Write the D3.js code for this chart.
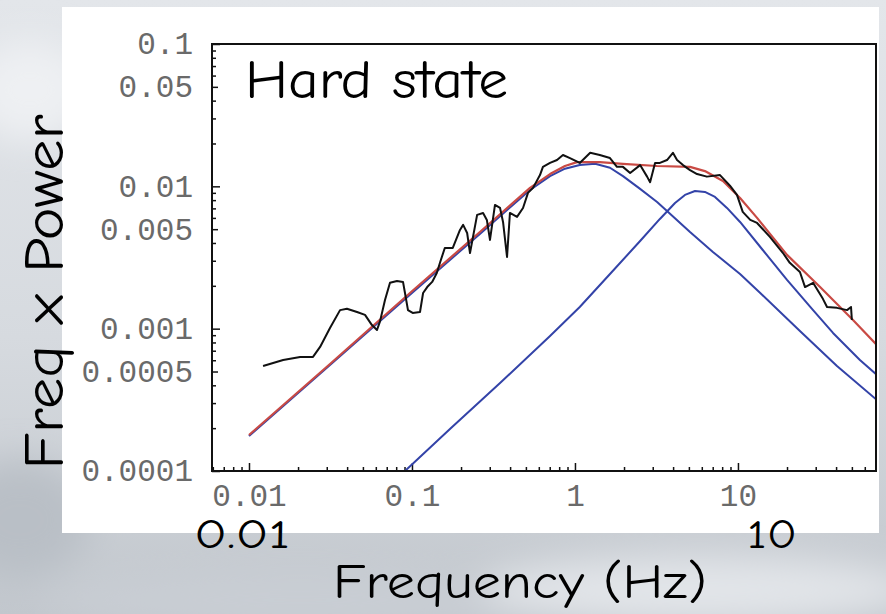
<!DOCTYPE html>
<html>
<head>
<meta charset="utf-8">
<script src="https://cdn.jsdelivr.net/npm/d3@7"></script>
<style>
  html, body { margin: 0; padding: 0; background: #d9dde2; }
  svg { display: block; }
</style>
</head>
<body>
<div id="chart"></div>
<script>
// Tick labels
const freqTicks = [0.01, 0.1, 1, 10];
const powerTicks = [0.1, 0.05, 0.01, 0.005, 0.001, 0.0005, 0.0001];

// Measured power spectrum (freq x power)
const dataFreq = [0.0122, 0.0162, 0.0206, 0.0247, 0.0273, 0.0314, 0.0362, 0.0399, 0.0460, 0.0515,
  0.0568, 0.0610, 0.0636, 0.0683, 0.0733, 0.0809, 0.0881, 0.0906, 0.0945, 0.101,
  0.112, 0.117, 0.124, 0.133, 0.142, 0.149, 0.159, 0.178, 0.197, 0.206,
  0.218, 0.227, 0.251, 0.273, 0.288, 0.301, 0.323, 0.347, 0.362, 0.383,
  0.399, 0.441, 0.480, 0.515, 0.553, 0.610, 0.636, 0.703, 0.776, 0.844,
  0.932, 1.07, 1.24, 1.42, 1.64, 1.81, 1.97, 2.18, 2.51, 2.77,
  2.89, 3.10, 3.32, 3.67, 3.99, 4.23, 4.60, 5.08, 5.61, 6.45,
  7.76, 8.93, 9.86, 10.7, 11.9, 13.1, 15.7, 18.9, 20.8, 24.0,
  25.8, 28.9, 33.2, 35.2, 40.5, 46.7, 49.4, 50.0];
const dataPower = [5.47e-4, 6.03e-4, 6.33e-4, 6.33e-4, 7.44e-4, 1.01e-3, 1.35e-3, 1.38e-3, 1.31e-3, 1.25e-3,
  1.06e-3, 9.79e-4, 1.12e-3, 1.59e-3, 2.10e-3, 2.16e-3, 2.13e-3, 1.78e-3, 1.35e-3, 1.29e-3,
  1.31e-3, 1.78e-3, 1.96e-3, 2.13e-3, 2.46e-3, 2.94e-3, 3.69e-3, 3.69e-3, 4.94e-3, 5.36e-3,
  4.70e-3, 3.40e-3, 6.30e-3, 6.50e-3, 5.81e-3, 4.20e-3, 7.40e-3, 7.05e-3, 5.62e-3, 3.19e-3,
  6.50e-3, 6.10e-3, 7.05e-3, 8.99e-3, 9.75e-3, 0.0120, 0.0137, 0.0146, 0.0153, 0.0166,
  0.0158, 0.0146, 0.0172, 0.0166, 0.0158, 0.0137, 0.0137, 0.0124, 0.0141, 0.0117,
  0.0107, 0.0146, 0.0146, 0.0153, 0.0172, 0.0153, 0.0141, 0.0130, 0.0122, 0.0117,
  0.0120, 0.0101, 8.70e-3, 6.61e-3, 5.81e-3, 5.53e-3, 4.41e-3, 3.40e-3, 2.90e-3, 2.50e-3,
  1.96e-3, 2.10e-3, 1.62e-3, 1.42e-3, 1.40e-3, 1.35e-3, 1.42e-3, 1.15e-3];

// Low-frequency Lorentzian component
const lowFreq = [0.01, 0.0314, 0.0972, 0.261, 0.530, 0.703, 0.868, 1.07, 1.33, 1.64,
  1.97, 2.51, 3.19, 3.67, 5.08, 7.02, 10.3, 13.7, 24.0, 40.5, 71.2];
const lowPower = [1.76e-4, 5.56e-4, 1.73e-3, 4.63e-3, 9.43e-3, 0.0118, 0.0133, 0.0141, 0.0144, 0.0135,
  0.0118, 9.59e-3, 7.77e-3, 6.72e-3, 4.78e-3, 3.46e-3, 2.42e-3, 1.78e-3, 9.63e-4, 5.47e-4, 3.15e-4];

// High-frequency Lorentzian component
const highFreq = [0.0906, 0.171, 0.347, 0.703, 1.07, 1.64, 2.51, 3.32, 4.11, 4.73,
  5.45, 6.27, 7.23, 8.56, 10.3, 14.2, 20.0, 28.9, 38.3, 56.0, 71.2];
const highPower = [1.0e-4, 1.97e-4, 4.15e-4, 8.89e-4, 1.42e-3, 2.42e-3, 4.13e-3, 5.90e-3, 7.64e-3, 8.70e-3,
  9.28e-3, 9.13e-3, 8.42e-3, 7.05e-3, 5.62e-3, 3.57e-3, 2.20e-3, 1.35e-3, 9.33e-4, 6.03e-4, 4.73e-4];

// Total model
const totalFreq = [0.01, 0.0314, 0.0972, 0.261, 0.530, 0.703, 0.868, 1.03, 1.42, 1.97,
  3.19, 5.08, 6.27, 8.09, 10.3, 13.1, 20.0, 31.9, 50.8, 71.2];
const totalPower = [1.79e-4, 5.65e-4, 1.78e-3, 4.78e-3, 9.75e-3, 0.0122, 0.0139, 0.0148, 0.0148, 0.0144,
  0.0139, 0.0137, 0.0128, 0.0109, 8.29e-3, 6.00e-3, 3.30e-3, 1.96e-3, 1.15e-3, 7.68e-4];

const width = 886, height = 614;
const frame = { left: 212, right: 876, top: 44, bottom: 471 };
const handFont = "'Comic Sans MS', 'Comic Neue', Lato, sans-serif";
const monoFont = "'Liberation Mono', 'DejaVu Sans Mono', monospace";

const svg = d3.select("#chart").append("svg")
  .attr("width", width)
  .attr("height", height);

const defs = svg.append("defs");

// Sky-like backdrop
const bg = defs.append("linearGradient").attr("id", "sky")
  .attr("x1", 0).attr("y1", 0).attr("x2", 0).attr("y2", 1);
bg.append("stop").attr("offset", "0%").attr("stop-color", "#e3e6ea");
bg.append("stop").attr("offset", "55%").attr("stop-color", "#d6dadf");
bg.append("stop").attr("offset", "100%").attr("stop-color", "#c2c7cd");

defs.append("filter").attr("id", "blur")
  .append("feGaussianBlur").attr("stdDeviation", 18);

defs.append("clipPath").attr("id", "plot-clip")
  .append("rect")
  .attr("x", frame.left)
  .attr("y", frame.top)
  .attr("width", frame.right - frame.left)
  .attr("height", frame.bottom - frame.top);

svg.append("rect")
  .attr("width", width)
  .attr("height", height)
  .attr("fill", "url(#sky)");

// a few soft cloud patches
const clouds = svg.append("g").attr("filter", "url(#blur)");
clouds.append("ellipse").attr("cx", 30).attr("cy", 90).attr("rx", 60).attr("ry", 50).attr("fill", "#eef0f3");
clouds.append("ellipse").attr("cx", 20).attr("cy", 520).attr("rx", 70).attr("ry", 60).attr("fill", "#b9bfc6");
clouds.append("ellipse").attr("cx", 300).attr("cy", 600).attr("rx", 260).attr("ry", 30).attr("fill", "#c9ced4");
clouds.append("ellipse").attr("cx", 700).attr("cy", 590).attr("rx", 220).attr("ry", 35).attr("fill", "#e2e5e9");

// White figure panel
svg.append("rect")
  .attr("x", 62)
  .attr("y", 7)
  .attr("width", 817)
  .attr("height", 526)
  .attr("fill", "#ffffff");

const x = d3.scaleLog()
  .domain([0.00593, 70.3])
  .range([frame.left, frame.right]);

const y = d3.scaleLog()
  .domain([0.0001, 0.1])
  .range([frame.bottom, frame.top]);

// Minor ticks (2..9 per decade), drawn inward
const xMinor = x.ticks().filter(v => !freqTicks.some(t => Math.abs(t - v) / t < 1e-6));
const yMinor = y.ticks().filter(v => !powerTicks.some(t => Math.abs(t - v) / t < 1e-6));

svg.append("g")
  .attr("transform", `translate(0,${frame.bottom})`)
  .call(d3.axisBottom(x).tickValues(xMinor).tickSize(-4).tickFormat(""))
  .call(g => g.select(".domain").remove())
  .selectAll("line").attr("stroke", "#111").attr("stroke-width", 1.5);

svg.append("g")
  .attr("transform", `translate(${frame.left},0)`)
  .call(d3.axisLeft(y).tickValues(yMinor).tickSize(-4).tickFormat(""))
  .call(g => g.select(".domain").remove())
  .selectAll("line").attr("stroke", "#111").attr("stroke-width", 1.5);

// Labelled ticks
const xAxis = svg.append("g")
  .attr("transform", `translate(0,${frame.bottom})`)
  .call(d3.axisBottom(x).tickValues(freqTicks).tickSize(-8).tickPadding(13)
    .tickFormat(d => String(d)));
xAxis.select(".domain").remove();
xAxis.selectAll("line").attr("stroke", "#111").attr("stroke-width", 1.5);
xAxis.selectAll("text")
  .attr("fill", "#6a6a6a")
  .style("font-family", monoFont)
  .style("font-size", "31px");

const yAxis = svg.append("g")
  .attr("transform", `translate(${frame.left},0)`)
  .call(d3.axisLeft(y).tickValues(powerTicks).tickSize(-7).tickPadding(19)
    .tickFormat(d => String(d)));
yAxis.select(".domain").remove();
yAxis.selectAll("line")
  .attr("stroke", "#111")
  .attr("stroke-width", 1.5)
  .attr("x2", d => (String(d).includes("5") ? 6 : 8));
yAxis.selectAll("text")
  .attr("fill", "#6a6a6a")
  .style("font-family", monoFont)
  .style("font-size", "31px");

// Curves
const line = d3.line()
  .x(d => x(d[0]))
  .y(d => y(d[1]));

const plot = svg.append("g").attr("clip-path", "url(#plot-clip)");

const series = [
  { freq: lowFreq, power: lowPower, color: "#3343a8", w: 2 },
  { freq: highFreq, power: highPower, color: "#3343a8", w: 2 },
  { freq: totalFreq, power: totalPower, color: "#c94a44", w: 2.2 },
  { freq: dataFreq, power: dataPower, color: "#111111", w: 2 }
];

series.forEach(s => {
  plot.append("path")
    .datum(d3.zip(s.freq, s.power))
    .attr("fill", "none")
    .attr("stroke", s.color)
    .attr("stroke-width", s.w)
    .attr("stroke-linejoin", "round")
    .attr("d", line);
});

// Frame
svg.append("rect")
  .attr("x", frame.left)
  .attr("y", frame.top)
  .attr("width", frame.right - frame.left)
  .attr("height", frame.bottom - frame.top)
  .attr("fill", "none")
  .attr("stroke", "#111")
  .attr("stroke-width", 2);

// Hand-written style annotations
svg.append("text")
  .attr("x", 245)
  .attr("y", 98)
  .attr("textLength", 263)
  .attr("lengthAdjust", "spacingAndGlyphs")
  .style("font-family", handFont)
  .style("font-size", "55px")
  .attr("fill", "#000")
  .text("Hard state");

svg.append("text")
  .attr("transform", "translate(63,292) rotate(-90)")
  .attr("text-anchor", "middle")
  .attr("textLength", 355)
  .attr("lengthAdjust", "spacingAndGlyphs")
  .style("font-family", handFont)
  .style("font-size", "56px")
  .attr("fill", "#000")
  .text("Freq x Power");

svg.append("text")
  .attr("x", 520)
  .attr("y", 598)
  .attr("text-anchor", "middle")
  .attr("textLength", 374)
  .attr("lengthAdjust", "spacingAndGlyphs")
  .style("font-family", handFont)
  .style("font-size", "48px")
  .attr("fill", "#000")
  .text("Frequency (Hz)");

svg.append("text")
  .attr("x", 242)
  .attr("y", 548)
  .attr("text-anchor", "middle")
  .attr("textLength", 96)
  .attr("lengthAdjust", "spacingAndGlyphs")
  .style("font-family", handFont)
  .style("font-size", "40px")
  .attr("fill", "#000")
  .text("0.01");

svg.append("text")
  .attr("x", 772)
  .attr("y", 548)
  .attr("text-anchor", "middle")
  .attr("textLength", 50)
  .attr("lengthAdjust", "spacingAndGlyphs")
  .style("font-family", handFont)
  .style("font-size", "40px")
  .attr("fill", "#000")
  .text("10");
</script>
</body>
</html>
